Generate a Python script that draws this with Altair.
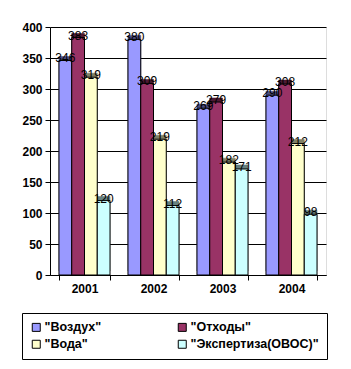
import altair as alt
import pandas as pd

years = ["2001", "2002", "2003", "2004"]
series = ['"Воздух"', '"Отходы"', '"Вода"', '"Экспертиза(ОВОС)"']
vozdukh = [346, 380, 269, 290]
otkhody = [383, 309, 279, 308]
voda = [319, 219, 182, 212]
ekspertiza = [120, 112, 171, 98]

front_colors = ["#9999FF", "#993366", "#FFFFCC", "#CCFFFF"]
side_colors = ["#4D4D80", "#4D1A33", "#808066", "#668080"]
side_keys = ["s1", "s2", "s3", "s4"]

rows = []
for vals, s, k in zip([vozdukh, otkhody, voda, ekspertiza], series, side_keys):
    for y, v in zip(years, vals):
        rows.append({"year": y, "series": s, "side": k, "value": v})
df = pd.DataFrame(rows)

x_enc = alt.X("year:N", title=None,
              scale=alt.Scale(paddingInner=0.26, paddingOuter=0.13),
              axis=alt.Axis(labelAngle=0, labelFont="Liberation Sans", labelFontWeight="bold",
                            labelFontSize=12, labelColor="black", labelPadding=3,
                            domainColor="black", tickColor="black", tickSize=5,
                            tickBand="extent", grid=False))
xo_enc = alt.XOffset("series:N", sort=series, scale=alt.Scale(paddingInner=0, paddingOuter=0))
y_enc = alt.Y("value:Q", title=None,
              scale=alt.Scale(domain=[0, 400], nice=False),
              axis=alt.Axis(values=list(range(0, 401, 50)), labelFont="Liberation Sans",
                            labelFontWeight="bold", labelFontSize=12, labelColor="black",
                            domainColor="black", tickColor="black", tickSize=5,
                            gridColor="black", gridOpacity=1, labelPadding=3))

side = alt.Chart(df).mark_bar(xOffset=4, yOffset=-4, strokeWidth=0.6).encode(
    x=x_enc, xOffset=xo_enc, y=y_enc,
    stroke=alt.Stroke("side:N", scale=alt.Scale(domain=side_keys, range=side_colors), legend=None),
    fill=alt.Fill("side:N", scale=alt.Scale(domain=side_keys, range=side_colors), legend=None),
)

front = alt.Chart(df).mark_bar(stroke="black", strokeWidth=1).encode(
    x=x_enc, xOffset=xo_enc, y=y_enc,
    color=alt.Color("series:N", sort=series,
                    scale=alt.Scale(domain=series, range=front_colors),
                    legend=alt.Legend(title=None, orient="none", legendX=-28, legendY=286,
                                      direction="horizontal",
                                      columns=2, gridAlign="each", columnPadding=74,
                                      rowPadding=4, padding=8,
                                      strokeColor="black", fillColor="white",
                                      symbolType="square", symbolSize=64,
                                      symbolStrokeColor="black", symbolStrokeWidth=1,
                                      labelFont="Liberation Sans", labelFontWeight="bold",
                                      labelFontSize=12.5, labelColor="black", labelOffset=2,
                                      labelLimit=300)),
)

labels = alt.Chart(df).mark_text(baseline="middle", dy=-2, font="Liberation Sans",
                                 fontSize=12, color="black").encode(
    x=x_enc, xOffset=xo_enc, y=y_enc, text="value:Q",
)

chart = alt.layer(side, front, labels).resolve_scale(
    color="independent", fill="independent", stroke="independent"
).properties(
    width=276, height=248,
    padding={"left": 50, "top": 27, "right": 25, "bottom": 94},
    autosize="none",
).configure_view(fill="#C0C0C0", stroke=None).configure(background="white")

chart.save("out.html", embed_options={"renderer": "svg", "actions": False})
